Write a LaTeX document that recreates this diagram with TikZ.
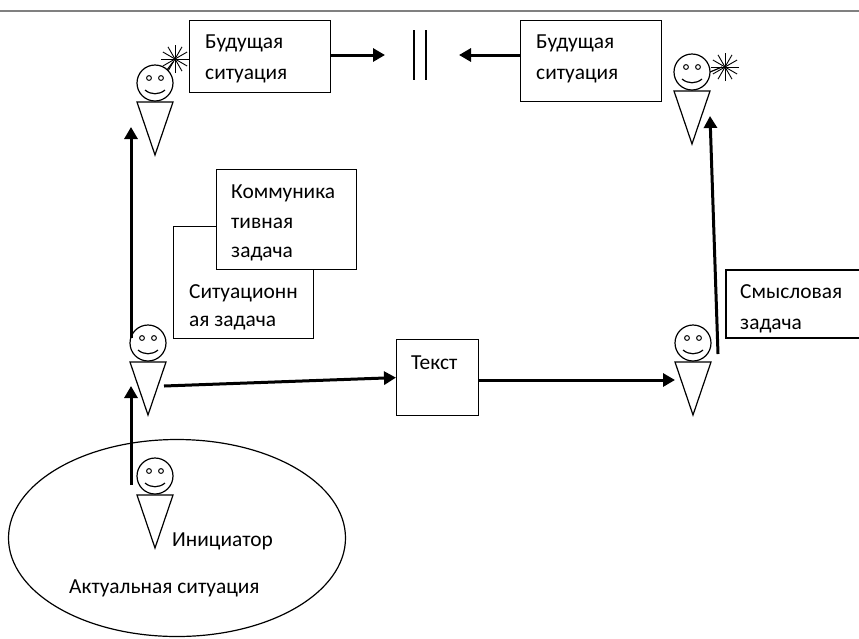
\documentclass[tikz,border=0pt]{standalone}
\usepackage{fontspec}
\setmainfont{Carlito}
\usetikzlibrary{arrows.meta,shapes.geometric}

\tikzset{
  box/.style={draw,fill=white,line width=1.2pt,anchor=north west,inner sep=0pt},
  caption/.style={anchor=base west,inner sep=0pt,font=\fontsize{21.4}{21.4}\selectfont},
  link/.style={-{Triangle[length=12pt,width=13pt]},line width=3pt},
  thin line/.style={line width=1.2pt},
  person/.pic={
    \draw[thin line] (0,0) circle (18);
    \draw[thin line] (-18,19) -- (18,19) -- (0,72) -- cycle;
    \draw[line width=1pt] (-6,-5) circle (2.4) (6,-5) circle (2.4);
    \draw[thin line] (-10,7) .. controls (-4,12) and (4,12) .. (10,7);
  },
  spark/.pic={
    \foreach \a in {0,30,...,150}
      \draw[line width=.9pt] (\a:14) -- (\a+180:14);
  },
}

\begin{document}
\begin{tikzpicture}[x=1pt,y=-1pt]
    \useasboundingbox (0,0) rectangle (859,638);
    \draw[gray,line width=1.2pt] (0,11) -- (859,11);

    \node[draw,ellipse,minimum width=337,minimum height=197,line width=1.2pt,inner sep=0pt] (situation) at (177,538) {};

    \node[box,minimum width=141,minimum height=72] (futureL) at (189,20) {};
    \node[box,minimum width=141,minimum height=81] (futureR) at (520,20) {};
    \node[box,minimum width=140,minimum height=112] (sittask) at (173,226) {};
    \node[box,minimum width=140,minimum height=100] (commtask) at (216,169) {};
    \node[box,minimum width=82,minimum height=76] (text) at (396,339) {};
    \draw[thin line] (859,270) -- (726,270) -- (726,338) -- (859,338);

    \node[caption] (t1) at (205,48) {Будущая};
    \node[caption] (t2) at (205,79) {ситуация};
    \node[caption] (t3) at (536,48) {Будущая};
    \node[caption] (t4) at (536,79) {ситуация};
    \node[caption] (t5) at (231,198) {Коммуника};
    \node[caption] (t6) at (231,228) {тивная};
    \node[caption] (t7) at (231,257) {задача};
    \node[caption] (t8) at (189,298) {Ситуационн};
    \node[caption] (t9) at (189,326) {ая задача};
    \node[caption] (t10) at (411,369) {Текст};
    \node[caption] (t11) at (740,298) {Смысловая};
    \node[caption] (t12) at (740,329) {задача};
    \node[caption] (t13) at (172,546) {Инициатор};
    \node[caption] (t14) at (69,593) {Актуальная ситуация};

    \pic (p1) at (155,83) {person};
    \pic (p2) at (692,72) {person};
    \pic (p3) at (148,343) {person};
    \pic (p4) at (155,476) {person};
    \pic (p5) at (693,343) {person};
    \pic (s1) at (175,59) {spark};
    \pic (s2) at (725,67) {spark};
    \draw[thin line] (167,70) -- (173,62);
    \draw[thin line] (710,72) -- (722,67);

    \draw[thin line] (414,30) -- (414,80);
    \draw[thin line] (426,30) -- (426,80);

    \coordinate (c1) at (131,338);
    \coordinate (c2) at (131,127);
    \coordinate (c3) at (131,485);
    \coordinate (c4) at (131,386);
    \coordinate (c5) at (164,386);
    \coordinate (c6) at (718,354);
    \coordinate (c7) at (710,116);
    \coordinate (c8) at (385,55);
    \coordinate (c9) at (459,55);
    \coordinate (c10) at (675,380);

    \draw[link] (c1) -- (c2);
    \draw[link] (c3) -- (c4);
    \draw[link] (c5) -- (text.west);
    \draw[link] (text.east |- c10) -- (c10);
    \draw[link] (c6) -- (c7);
    \draw[link] (futureL.east |- c8) -- (c8);
    \draw[link] (futureR.west |- c9) -- (c9);
\end{tikzpicture}
\end{document}
